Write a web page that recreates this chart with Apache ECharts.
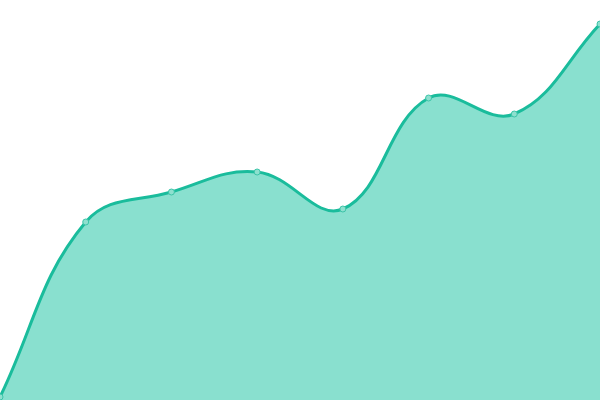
<!DOCTYPE html>
<html><head><meta charset="utf-8">
<script src="https://cdn.jsdelivr.net/npm/echarts@6/dist/echarts.min.js"></script>
<style>html,body{margin:0;padding:0;background:#fff}#c{width:600px;height:400px}</style>
</head><body><div id="c"></div>
<script>
var categories = ['1','2','3','4','5','6','7','8'];
var values = [3, 178, 208, 228, 191, 302, 286, 376];
var yMin = 0, yMax = 400;
var SMOOTH = 0.4;

function buildPath(pts, bottom) {
  var minX = Infinity, minY = Infinity, maxX = -Infinity, maxY = -Infinity;
  pts.forEach(function (p) {
    minX = Math.min(minX, p[0]); maxX = Math.max(maxX, p[0]);
    minY = Math.min(minY, p[1]); maxY = Math.max(maxY, p[1]);
  });
  function clamp(p) {
    return [Math.min(maxX, Math.max(minX, p[0])), Math.min(maxY, Math.max(minY, p[1]))];
  }
  var n = pts.length, cps = [];
  for (var i = 0; i < n; i++) {
    var p = pts[i];
    var prev = pts[i === 0 ? 0 : i - 1];
    var next = pts[i === n - 1 ? n - 1 : i + 1];
    var vx = next[0] - prev[0], vy = next[1] - prev[1];
    var d0 = Math.hypot(p[0] - prev[0], p[1] - prev[1]);
    var d1 = Math.hypot(next[0] - p[0], next[1] - p[1]);
    var sum = d0 + d1 || 1;
    var r0 = d0 / sum, r1 = d1 / sum;
    cps.push([
      clamp([p[0] - vx * SMOOTH * r0, p[1] - vy * SMOOTH * r0]),
      clamp([p[0] + vx * SMOOTH * r1, p[1] + vy * SMOOTH * r1])
    ]);
  }
  var d = 'M' + pts[0][0] + ' ' + pts[0][1];
  for (var j = 1; j < n; j++) {
    var c1 = cps[j - 1][1], c2 = cps[j][0], q = pts[j];
    d += ' C' + c1[0] + ' ' + c1[1] + ' ' + c2[0] + ' ' + c2[1] + ' ' + q[0] + ' ' + q[1];
  }
  return d;
}

var chart = echarts.init(document.getElementById('c'));
chart.setOption({
  animation: false,
  grid: {left: 0, right: 0, top: 0, bottom: 0},
  xAxis: {type: 'category', data: categories, boundaryGap: false, show: false},
  yAxis: {type: 'value', min: yMin, max: yMax, show: false},
  series: [{
    type: 'custom',
    clip: false,
    data: [[0, 0]],
    renderItem: function (params, api) {
      var pts = values.map(function (v, i) { return api.coord([i, v]); });
      var bottom = api.coord([0, yMin])[1];
      var curve = buildPath(pts, bottom);
      var area = curve + ' L' + pts[pts.length - 1][0] + ' ' + bottom + ' L' + pts[0][0] + ' ' + bottom + ' Z';
      return {
        type: 'group',
        children: [
          {type: 'path', shape: {pathData: area}, style: {fill: '#89e0cf', stroke: null}},
          {type: 'path', shape: {pathData: curve}, style: {fill: 'none', stroke: '#1abc9c', lineWidth: 3}}
        ]
      };
    }
  }, {
    type: 'line',
    data: values,
    symbol: 'circle',
    symbolSize: 6,
    lineStyle: {opacity: 0},
    itemStyle: {color: '#8ee0cf', borderColor: '#3cc4a8', borderWidth: 1}
  }]
});
</script></body></html>
